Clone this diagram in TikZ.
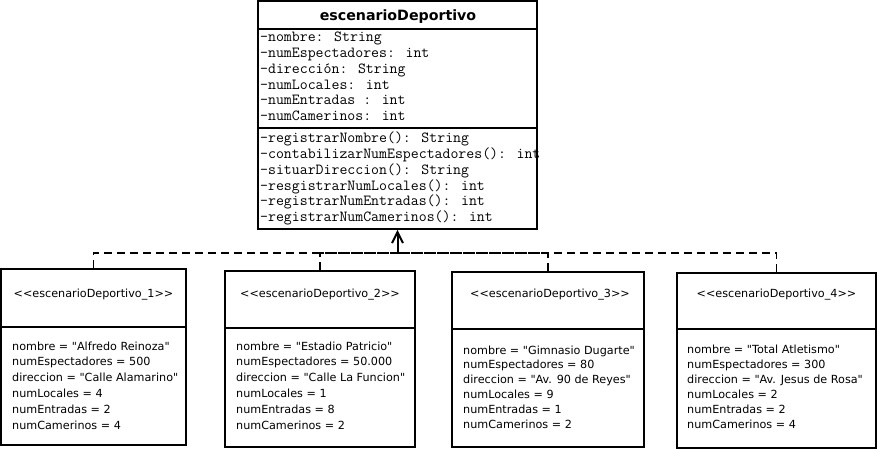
\documentclass[tikz,border=0pt]{standalone}
\usepackage{fontspec}
\usetikzlibrary{arrows.meta}
\newfontfamily\umlsans{DejaVu Sans}
\begin{document}
\begin{tikzpicture}[x=1pt,y=-1pt,
  umlbox/.style={draw=black,line width=1.6pt,fill=white,inner sep=0pt},
  sepline/.style={draw=black,line width=1.6pt},
  monotext/.style={anchor=base west,inner sep=0pt,font=\ttfamily\fontsize{15.4}{16}\selectfont},
  titletext/.style={anchor=base,inner sep=0pt,font=\umlsans\bfseries\fontsize{14.2}{17}\selectfont},
  sanstext/.style={anchor=base west,inner sep=0pt,font=\umlsans\fontsize{11.2}{14}\selectfont},
  stereo/.style={anchor=base,inner sep=0pt,font=\umlsans\fontsize{11.2}{14}\selectfont},
  dashline/.style={draw=black,line width=1.6pt,dash pattern=on 8pt off 5pt},
  realize/.style={draw=black,line width=2pt,-{Straight Barb[length=11pt,width=11pt]}}]
\useasboundingbox (0,0) rectangle (877,449);
\fill[white] (0,0) rectangle (877,449);

% main class
\node[umlbox,minimum width=279pt,minimum height=228pt] (main) at (397.5,115) {};
\draw[sepline] (main.west |- 0,29) -- (main.east |- 0,29);
\draw[sepline] (main.west |- 0,128) -- (main.east |- 0,128);
\node[titletext] (title) at (398,21) {escenarioDeportivo};
\foreach \t [count=\i] in {-nombre: String,-numEspectadores: int,-dirección: String,-numLocales: int,-numEntradas : int,-numCamerinos: int}
  \node[monotext] (attr\i) at (260,{41.7+15.8*(\i-1)}) {\t};
\foreach \t [count=\i] in {-registrarNombre(): String,-contabilizarNumEspectadores(): int,-situarDireccion(): String,-resgistrarNumLocales(): int,-registrarNumEntradas(): int,-registrarNumCamerinos(): int}
  \node[monotext] (meth\i) at (260,{142.3+15.9*(\i-1)}) {\t};

% instance boxes
\node[umlbox,minimum width=185pt,minimum height=176pt] (b1) at (93.5,357) {};
\node[umlbox,minimum width=190pt,minimum height=176pt] (b2) at (320,359) {};
\node[umlbox,minimum width=192pt,minimum height=175pt] (b3) at (548,359.5) {};
\node[umlbox,minimum width=199pt,minimum height=175pt] (b4) at (776.5,360.5) {};
\draw[sepline] (b1.west |- 0,327) -- (b1.east |- 0,327);
\draw[sepline] (b2.west |- 0,328) -- (b2.east |- 0,328);
\draw[sepline] (b3.west |- 0,329) -- (b3.east |- 0,329);
\draw[sepline] (b4.west |- 0,329) -- (b4.east |- 0,329);

\node[stereo] (s1) at (93.5,297) {<<escenarioDeportivo\_1>>};
\node[stereo] (s2) at (320,297) {<<escenarioDeportivo\_2>>};
\node[stereo] (s3) at (550,297) {<<escenarioDeportivo\_3>>};
\node[stereo] (s4) at (776.5,297) {<<escenarioDeportivo\_4>>};

\foreach \t [count=\i] in {nombre = "Alfredo Reinoza",numEspectadores = 500,direccion = "Calle Alamarino",numLocales = 4,numEntradas = 2,numCamerinos = 4}
  \node[sanstext] (da\i) at (12,{350+15.9*(\i-1)}) {\t};
\foreach \t [count=\i] in {nombre = "Estadio Patricio",numEspectadores = 50.000,direccion = "Calle La Funcion",numLocales = 1,numEntradas = 8,numCamerinos = 2}
  \node[sanstext] (db\i) at (236,{350+15.9*(\i-1)}) {\t};
\foreach \t [count=\i] in {nombre = "Gimnasio Dugarte",numEspectadores = 80,direccion = "Av. 90 de Reyes",numLocales = 9,numEntradas = 1,numCamerinos = 2}
  \node[sanstext] (dc\i) at (463,{354+14.9*(\i-1)}) {\t};
\foreach \t [count=\i] in {nombre = "Total Atletismo",numEspectadores = 300,direccion = "Av. Jesus de Rosa",numLocales = 2,numEntradas = 2,numCamerinos = 4}
  \node[sanstext] (dd\i) at (687,{353.3+15.1*(\i-1)}) {\t};

% connectors
\coordinate (j) at (397.5,253);
\draw[dashline] (b1.north) |- (j);
\draw[dashline] (b2.north) |- (j);
\draw[dashline] (b3.north) |- (j);
\draw[dashline] (b4.north) |- (j);
\draw[realize] (j) -- (main.south);
\end{tikzpicture}
\end{document}
